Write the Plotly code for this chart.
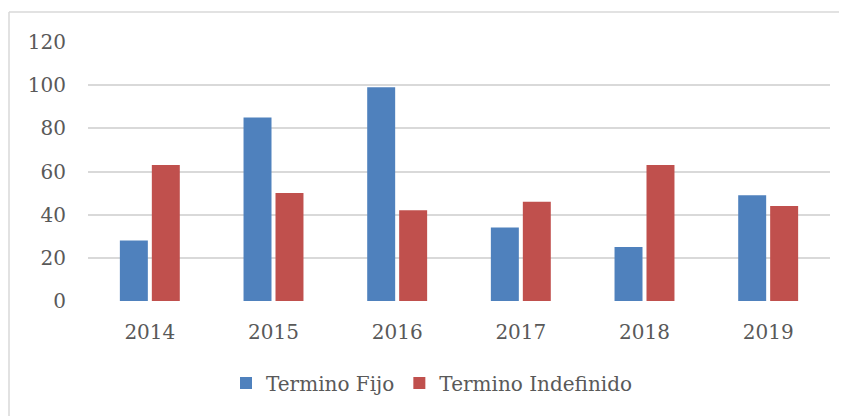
import plotly.graph_objects as go

years = ["2014", "2015", "2016", "2017", "2018", "2019"]
termino_fijo = [28, 85, 99, 34, 25, 49]
termino_indefinido = [63, 50, 42, 46, 63, 44]
y_ticks = [0, 20, 40, 60, 80, 100, 120]

FONT = "DejaVu Serif"
TXT = "#595959"
FS = 20

fig = go.Figure()
fig.add_trace(go.Bar(x=years, y=termino_fijo, name="Termino Fijo",
                     marker=dict(color="#4F81BD", line=dict(width=0))))
fig.add_trace(go.Bar(x=years, y=termino_indefinido, name="Termino Indefinido",
                     marker=dict(color="#C0504D", line=dict(width=0))))

OFF = 8  # page body margin
W, H = 847 - OFF, 416 - OFF
L, R, T, B = 88 - OFF, 17, 42 - OFF, 115
pw = W - L - R
ph = H - T - B

def px(x):
    return (x - OFF - L) / pw

def py(y):
    return (H - B - (y - OFF)) / ph

fig.update_layout(
    width=W, height=H,
    margin=dict(l=L, r=R, t=T, b=B, pad=0),
    paper_bgcolor="white", plot_bgcolor="white",
    barmode="group", bargap=0.483, bargroupgap=0.125,
    font=dict(family=FONT, size=FS, color=TXT),
    showlegend=True,
    legend=dict(orientation="h", x=px(432), xanchor="center", y=py(383), yanchor="middle",
                font=dict(family=FONT, size=FS, color=TXT), itemwidth=30,
                traceorder="normal", bgcolor="rgba(0,0,0,0)"),
    xaxis=dict(showgrid=False, showline=False, zeroline=False, ticks="",
               ticklabelstandoff=17, tickfont=dict(family=FONT, size=FS, color=TXT)),
    yaxis=dict(range=[0, 120], tickvals=y_ticks, showgrid=True, gridcolor="#D9D9D9",
               gridwidth=1.5, zeroline=False, showline=False, ticks="",
               ticklabelstandoff=21, tickfont=dict(family=FONT, size=FS, color=TXT)),
    shapes=[
        dict(type="line", xref="paper", yref="paper", x0=px(9), x1=px(847), y0=py(12), y1=py(12),
             line=dict(color="#D9D9D9", width=1.5)),
        dict(type="line", xref="paper", yref="paper", x0=px(9), x1=px(9), y0=py(12), y1=py(416),
             line=dict(color="#D9D9D9", width=1.5)),
    ],
)

fig.write_html("out.html")
